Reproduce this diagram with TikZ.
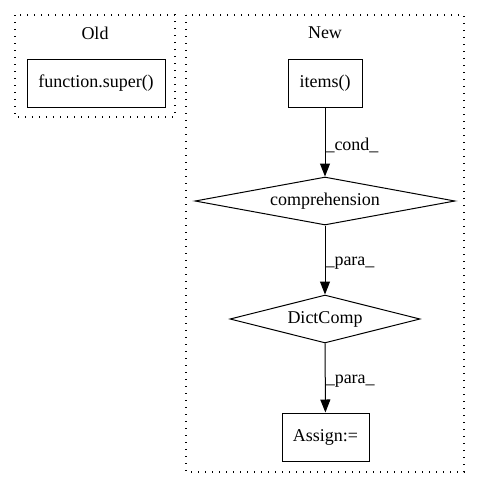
\documentclass[tikz,border=0pt]{standalone}
\usepackage{fontspec}
\setmainfont{Liberation Serif}
\usetikzlibrary{shapes.geometric}
\usetikzlibrary{arrows.meta}

\tikzset{
  box/.style={draw, line width=1pt, minimum height=48pt, inner sep=0pt},
  cond/.style={draw, diamond, line width=1pt, minimum height=48pt, inner sep=0pt, aspect=5},
  cluster/.style={draw, line width=1.2pt, dash pattern=on 1.3pt off 5.7pt},
  edge/.style={-{Triangle[length=13pt,width=10pt]}, line width=1pt},
  lbl/.style={right, inner sep=0pt, yshift=-3pt}
}

\begin{document}
\begin{tikzpicture}[x=1pt, y=-1pt, font=\fontsize{18pt}{22pt}\selectfont]
  \useasboundingbox (0,0) rectangle (480,488);
  \draw[cluster] (15,15) rectangle (175,117);
  \draw[cluster] (186,15) rectangle (464,472);
  \node (oldlabel) at (95,33) {Old};
  \node (newlabel) at (325,33) {New};

  \node[box, minimum width=138pt] (super) at (96,83) {function.super()};
  \node[box, minimum width=74pt] (items) at (325,83) {items()};
  \node[cond, minimum width=260pt] (comp) at (325,201) {comprehension};
  \node[cond, minimum width=190pt] (dict) at (325,319) {DictComp};
  \node[box, minimum width=87pt] (assign) at (325.5,437) {Assign:=};

  \draw[edge] (items) -- (comp) node[midway, lbl] {\_cond\_};
  \draw[edge] (comp) -- (dict) node[midway, lbl] {\_para\_};
  \draw[edge] (dict) -- (assign) node[midway, lbl] {\_para\_};
\end{tikzpicture}
\end{document}
